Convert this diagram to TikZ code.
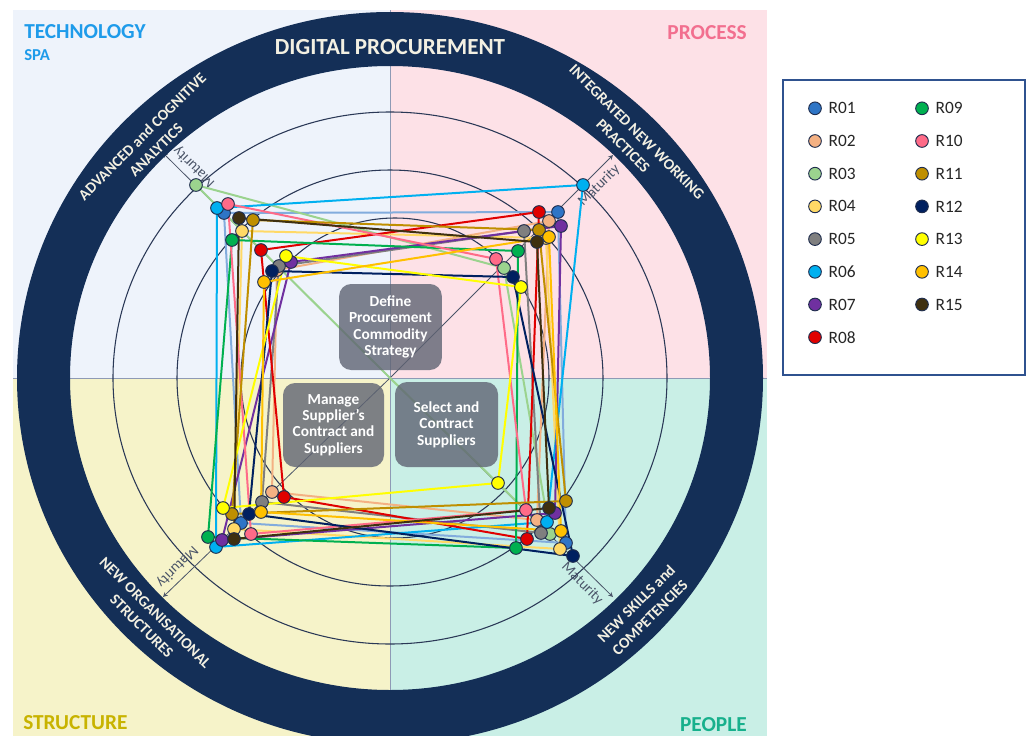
\documentclass[tikz,border=0pt]{standalone}
\usepackage{fontspec}
\setmainfont{Carlito}
\usepackage{xcolor}
\usetikzlibrary{positioning}

\definecolor{techbg}{HTML}{EEF3FB}
\definecolor{procbg}{HTML}{FDE1E7}
\definecolor{strubg}{HTML}{F6F3C9}
\definecolor{peopbg}{HTML}{C9EFE6}
\definecolor{techtxt}{HTML}{1E9BEA}
\definecolor{proctxt}{HTML}{F26F8F}
\definecolor{strutxt}{HTML}{C8B300}
\definecolor{peoptxt}{HTML}{17B08C}
\definecolor{ringcol}{HTML}{142F57}
\definecolor{ringtxt}{HTML}{F3F0E2}
\definecolor{circcol}{HTML}{2A3856}
\definecolor{axiscol}{HTML}{4A5468}
\definecolor{divider}{HTML}{8E9AB5}
\definecolor{dotedge}{HTML}{1F2D4D}
\definecolor{stagecol}{HTML}{5F6473}
\definecolor{keyedge}{HTML}{2F528F}

\definecolor{resp01}{HTML}{2E75C6}
\definecolor{resp02}{HTML}{F4B183}
\definecolor{resp03}{HTML}{9BD38E}
\definecolor{resp04}{HTML}{FFD966}
\definecolor{resp05}{HTML}{7F7F7F}
\definecolor{resp06}{HTML}{00B0F0}
\definecolor{resp07}{HTML}{7030A0}
\definecolor{resp08}{HTML}{E00000}
\definecolor{resp09}{HTML}{00B050}
\definecolor{resp10}{HTML}{FF6B88}
\definecolor{resp11}{HTML}{BF8F00}
\definecolor{resp12}{HTML}{002060}
\definecolor{resp13}{HTML}{FFFF00}
\definecolor{resp14}{HTML}{FFC000}
\definecolor{resp15}{HTML}{3F3010}

\begin{document}
\begin{tikzpicture}[x=0.75pt, y=-0.75pt,
		dot/.style={circle, draw=dotedge, line width=0.7pt, minimum size=9.5pt, inner sep=0pt},
		series/.style={line width=1.5pt, line join=round},
		circline/.style={draw=circcol, line width=0.8pt},
		axis/.style={-stealth, draw=axiscol, line width=0.6pt},
		maturity/.style={text=axiscol, font=\fontsize{11}{12}\selectfont, inner sep=4pt},
		stage/.style={rounded corners=9pt, fill=stagecol, fill opacity=0.8, text opacity=1, text=white, font=\bfseries\fontsize{11.5}{12.3}\selectfont, align=center, inner sep=0pt},
		ringtext/.style={text=ringtxt, font=\bfseries\fontsize{11.5}{14.5}\selectfont, align=center, inner sep=0pt},
		quarter/.style={font=\bfseries\fontsize{16}{18}\selectfont, inner sep=0pt},
		keytext/.style={font=\fontsize{13}{15}\selectfont, inner sep=0pt, text=black!85}
	]

	\useasboundingbox (0,0) rectangle (1029,736);
	\fill[white] (0,0) rectangle (1029,736);

	\fill[techbg] (13,10) rectangle (390,378);
	\fill[procbg] (390,10) rectangle (767,378);
	\fill[strubg] (13,378) rectangle (390,736);
	\fill[peopbg] (390,378) rectangle (767,736);
	\draw[divider, line width=0.6pt] (390,10) -- (390,736) (13,378) -- (767,378);

	\coordinate (ctr) at (390,378);
	\draw[circline] (ctr) ellipse [x radius=277, y radius=266];
	\draw[circline] (ctr) ellipse [x radius=213, y radius=208];
	\draw[circline] (395,378) ellipse [x radius=154, y radius=160];

	\coordinate (tipTL) at (163,153);
	\coordinate (tipTR) at (613,155);
	\coordinate (tipBR) at (613,597);
	\coordinate (tipBL) at (163,597);
	\draw[axis] (ctr) -- (tipTL) node[maturity, pos=0.9, rotate=135, anchor=north] (matTL) {Maturity};
	\draw[axis] (ctr) -- (tipTR) node[maturity, pos=0.9, rotate=45, anchor=north] (matTR) {Maturity};
	\draw[axis] (ctr) -- (tipBR) node[maturity, pos=0.9, rotate=-45, anchor=north] (matBR) {Maturity};
	\draw[axis] (ctr) -- (tipBL) node[maturity, pos=0.9, rotate=225, anchor=north] (matBL) {Maturity};

	\coordinate (r01a) at (224,213); \coordinate (r01b) at (558,212); \coordinate (r01c) at (566,543); \coordinate (r01d) at (241,523);
	\coordinate (r02a) at (277,270); \coordinate (r02b) at (549,221); \coordinate (r02c) at (537,520); \coordinate (r02d) at (272,492);
	\coordinate (r03a) at (196,185); \coordinate (r03b) at (504,268); \coordinate (r03c) at (550,534); \coordinate (r03d) at (390,378);
	\coordinate (r04a) at (242,231); \coordinate (r04b) at (546,238); \coordinate (r04c) at (560,549); \coordinate (r04d) at (234,529);
	\coordinate (r05a) at (279,266); \coordinate (r05b) at (524,231); \coordinate (r05c) at (541,533); \coordinate (r05d) at (262,502);
	\coordinate (r06a) at (217,208); \coordinate (r06b) at (583,185); \coordinate (r06c) at (547,522); \coordinate (r06d) at (216,547);
	\coordinate (r07a) at (291,262); \coordinate (r07b) at (561,226); \coordinate (r07c) at (555,513); \coordinate (r07d) at (222,540);
	\coordinate (r08a) at (261,250); \coordinate (r08b) at (539,212); \coordinate (r08c) at (527,539); \coordinate (r08d) at (284,497);
	\coordinate (r09a) at (232,240); \coordinate (r09b) at (518,251); \coordinate (r09c) at (516,548); \coordinate (r09d) at (208,537);
	\coordinate (r10a) at (228,204); \coordinate (r10b) at (496,259); \coordinate (r10c) at (526,510); \coordinate (r10d) at (251,534);
	\coordinate (r11a) at (253,220); \coordinate (r11b) at (539,230); \coordinate (r11c) at (566,501); \coordinate (r11d) at (232,514);
	\coordinate (r12a) at (272,271); \coordinate (r12b) at (513,277); \coordinate (r12c) at (573,556); \coordinate (r12d) at (249,514);
	\coordinate (r13a) at (286,256); \coordinate (r13b) at (521,287); \coordinate (r13c) at (498,483); \coordinate (r13d) at (223,508);
	\coordinate (r14a) at (264,282); \coordinate (r14b) at (549,237); \coordinate (r14c) at (561,531); \coordinate (r14d) at (261,512);
	\coordinate (r15a) at (239,218); \coordinate (r15b) at (537,242); \coordinate (r15c) at (549,508); \coordinate (r15d) at (234,539);

	\draw[series, color = resp01!60] (r01a) -- (r01b) -- (r01c) -- (r01d) -- cycle;
	\draw[series, color = resp02] (r02a) -- (r02b) -- (r02c) -- (r02d) -- cycle;
	\draw[series, color = resp03] (r03a) -- (r03b) -- (r03c) -- (r03d) -- cycle;
	\draw[series, color = resp04] (r04a) -- (r04b) -- (r04c) -- (r04d) -- cycle;
	\draw[series, color = resp05] (r05a) -- (r05b) -- (r05c) -- (r05d) -- cycle;
	\draw[series, color = resp06] (r06a) -- (r06b) -- (r06c) -- (r06d) -- cycle;
	\draw[series, color = resp07] (r07a) -- (r07b) -- (r07c) -- (r07d) -- cycle;
	\draw[series, color = resp08] (r08a) -- (r08b) -- (r08c) -- (r08d) -- cycle;
	\draw[series, color = resp09] (r09a) -- (r09b) -- (r09c) -- (r09d) -- cycle;
	\draw[series, color = resp10] (r10a) -- (r10b) -- (r10c) -- (r10d) -- cycle;
	\draw[series, color = resp11] (r11a) -- (r11b) -- (r11c) -- (r11d) -- cycle;
	\draw[series, color = resp12] (r12a) -- (r12b) -- (r12c) -- (r12d) -- cycle;
	\draw[series, color = resp13] (r13a) -- (r13b) -- (r13c) -- (r13d) -- cycle;
	\draw[series, color = resp14] (r14a) -- (r14b) -- (r14c) -- (r14d) -- cycle;
	\draw[series, color = resp15] (r15a) -- (r15b) -- (r15c) -- (r15d) -- cycle;

	\node[dot, fill=resp01] (d01a) at (r01a) {}; \node[dot, fill=resp01] (d01b) at (r01b) {}; \node[dot, fill=resp01] (d01c) at (r01c) {}; \node[dot, fill=resp01] (d01d) at (r01d) {};
	\node[dot, fill=resp02] (d02a) at (r02a) {}; \node[dot, fill=resp02] (d02b) at (r02b) {}; \node[dot, fill=resp02] (d02c) at (r02c) {}; \node[dot, fill=resp02] (d02d) at (r02d) {};
	\node[dot, fill=resp03] (d03a) at (r03a) {}; \node[dot, fill=resp03] (d03b) at (r03b) {}; \node[dot, fill=resp03] (d03c) at (r03c) {};
	\node[dot, fill=resp04] (d04a) at (r04a) {}; \node[dot, fill=resp04] (d04b) at (r04b) {}; \node[dot, fill=resp04] (d04c) at (r04c) {}; \node[dot, fill=resp04] (d04d) at (r04d) {};
	\node[dot, fill=resp05] (d05a) at (r05a) {}; \node[dot, fill=resp05] (d05b) at (r05b) {}; \node[dot, fill=resp05] (d05c) at (r05c) {}; \node[dot, fill=resp05] (d05d) at (r05d) {};
	\node[dot, fill=resp06] (d06a) at (r06a) {}; \node[dot, fill=resp06] (d06b) at (r06b) {}; \node[dot, fill=resp06] (d06c) at (r06c) {}; \node[dot, fill=resp06] (d06d) at (r06d) {};
	\node[dot, fill=resp07] (d07a) at (r07a) {}; \node[dot, fill=resp07] (d07b) at (r07b) {}; \node[dot, fill=resp07] (d07c) at (r07c) {}; \node[dot, fill=resp07] (d07d) at (r07d) {};
	\node[dot, fill=resp08] (d08a) at (r08a) {}; \node[dot, fill=resp08] (d08b) at (r08b) {}; \node[dot, fill=resp08] (d08c) at (r08c) {}; \node[dot, fill=resp08] (d08d) at (r08d) {};
	\node[dot, fill=resp09] (d09a) at (r09a) {}; \node[dot, fill=resp09] (d09b) at (r09b) {}; \node[dot, fill=resp09] (d09c) at (r09c) {}; \node[dot, fill=resp09] (d09d) at (r09d) {};
	\node[dot, fill=resp10] (d10a) at (r10a) {}; \node[dot, fill=resp10] (d10b) at (r10b) {}; \node[dot, fill=resp10] (d10c) at (r10c) {}; \node[dot, fill=resp10] (d10d) at (r10d) {};
	\node[dot, fill=resp11] (d11a) at (r11a) {}; \node[dot, fill=resp11] (d11b) at (r11b) {}; \node[dot, fill=resp11] (d11c) at (r11c) {}; \node[dot, fill=resp11] (d11d) at (r11d) {};
	\node[dot, fill=resp12] (d12a) at (r12a) {}; \node[dot, fill=resp12] (d12b) at (r12b) {}; \node[dot, fill=resp12] (d12c) at (r12c) {}; \node[dot, fill=resp12] (d12d) at (r12d) {};
	\node[dot, fill=resp13] (d13a) at (r13a) {}; \node[dot, fill=resp13] (d13b) at (r13b) {}; \node[dot, fill=resp13] (d13c) at (r13c) {}; \node[dot, fill=resp13] (d13d) at (r13d) {};
	\node[dot, fill=resp14] (d14a) at (r14a) {}; \node[dot, fill=resp14] (d14b) at (r14b) {}; \node[dot, fill=resp14] (d14c) at (r14c) {}; \node[dot, fill=resp14] (d14d) at (r14d) {};
	\node[dot, fill=resp15] (d15a) at (r15a) {}; \node[dot, fill=resp15] (d15b) at (r15b) {}; \node[dot, fill=resp15] (d15c) at (r15c) {}; \node[dot, fill=resp15] (d15d) at (r15d) {};

	\node[stage, minimum width=77pt, minimum height=64.5pt] (define) at (390.5,327) {Define\\Procurement\\Commodity\\Strategy};
	\node[stage, minimum width=75.75pt, minimum height=63pt] (manage) at (333.5,425) {Manage\\Supplier's\\Contract and\\Suppliers};
	\node[stage, minimum width=77.25pt, minimum height=63.75pt] (select) at (446.5,424.5) {Select and\\Contract\\Suppliers};

	\fill[ringcol, even odd rule] (ctr) ellipse [x radius=373, y radius=366] (ctr) ellipse [x radius=320, y radius=312];

	\node[ringtext, font=\bfseries\fontsize{17.3}{19}\selectfont, anchor=base] (title) at (390,54) {DIGITAL PROCUREMENT};
	\node[ringtext, rotate=45] (analytics) at (149,143) {ADVANCED and COGNITIVE\\ANALYTICS};
	\node[ringtext, rotate=-45] (practices) at (630,139) {INTEGRATED NEW WORKING\\PRACTICES};
	\node[ringtext, rotate=-45] (structures) at (148.5,619.5) {NEW ORGANISATIONAL\\STRUCTURES};
	\node[ringtext, rotate=45] (competencies) at (643,610.5) {NEW SKILLS and\\COMPETENCIES};

	\node[quarter, text=techtxt, anchor=base west] (technology) at (24,38.3) {TECHNOLOGY};
	\node[quarter, text=techtxt, font=\bfseries\fontsize{12.5}{14}\selectfont, anchor=base west] (spa) at (24,60) {SPA};
	\node[quarter, text=proctxt, anchor=base east] (process) at (747,39.3) {PROCESS};
	\node[quarter, text=strutxt, anchor=base west] (structure) at (23,729.3) {STRUCTURE};
	\node[quarter, text=peoptxt, anchor=base east] (people) at (747,731.7) {PEOPLE};

	\node[draw=keyedge, line width=1.2pt, fill=white, minimum width=181.5pt, minimum height=221.25pt, inner sep=0pt] (legend) at (904,227.5) {};

	\node[dot, fill=resp01] (keyR01) at (815,108.3) {};
	\node[keytext, right=5pt of keyR01] (txtR01) {R01};
	\node[dot, fill=resp02] (keyR02) at (815,141) {};
	\node[keytext, right=5pt of keyR02] (txtR02) {R02};
	\node[dot, fill=resp03] (keyR03) at (815,173.7) {};
	\node[keytext, right=5pt of keyR03] (txtR03) {R03};
	\node[dot, fill=resp04] (keyR04) at (815,206.4) {};
	\node[keytext, right=5pt of keyR04] (txtR04) {R04};
	\node[dot, fill=resp05] (keyR05) at (815,239.1) {};
	\node[keytext, right=5pt of keyR05] (txtR05) {R05};
	\node[dot, fill=resp06] (keyR06) at (815,271.8) {};
	\node[keytext, right=5pt of keyR06] (txtR06) {R06};
	\node[dot, fill=resp07] (keyR07) at (815,304.5) {};
	\node[keytext, right=5pt of keyR07] (txtR07) {R07};
	\node[dot, fill=resp08] (keyR08) at (815,337.2) {};
	\node[keytext, right=5pt of keyR08] (txtR08) {R08};

	\node[dot, fill=resp09] (keyR09) at (922,108.3) {};
	\node[keytext, right=5pt of keyR09] (txtR09) {R09};
	\node[dot, fill=resp10] (keyR10) at (922,141) {};
	\node[keytext, right=5pt of keyR10] (txtR10) {R10};
	\node[dot, fill=resp11] (keyR11) at (922,173.7) {};
	\node[keytext, right=5pt of keyR11] (txtR11) {R11};
	\node[dot, fill=resp12] (keyR12) at (922,206.4) {};
	\node[keytext, right=5pt of keyR12] (txtR12) {R12};
	\node[dot, fill=resp13] (keyR13) at (922,239.1) {};
	\node[keytext, right=5pt of keyR13] (txtR13) {R13};
	\node[dot, fill=resp14] (keyR14) at (922,271.8) {};
	\node[keytext, right=5pt of keyR14] (txtR14) {R14};
	\node[dot, fill=resp15] (keyR15) at (922,304.5) {};
	\node[keytext, right=5pt of keyR15] (txtR15) {R15};

\end{tikzpicture}
\end{document}
